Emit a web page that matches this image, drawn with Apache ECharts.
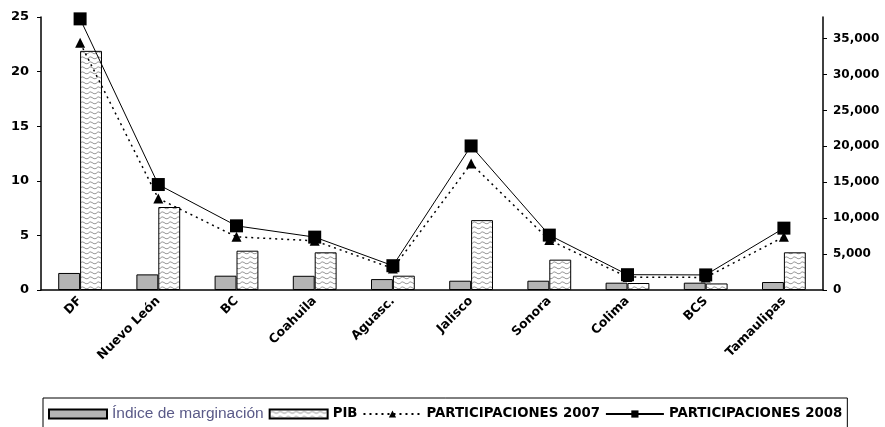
<!DOCTYPE html>
<html>
<head>
<meta charset="utf-8">
<script src="https://cdn.jsdelivr.net/npm/echarts@6/dist/echarts.min.js"></script>
<style>
html,body{margin:0;padding:0;background:#fff;}
#c{width:885px;height:427px;}
</style>
</head>
<body>
<div id="c"></div>
<script>
const categories = ['DF', 'Nuevo León', 'BC', 'Coahuila', 'Aguasc.', 'Jalisco', 'Sonora', 'Colima', 'BCS', 'Tamaulipas'];
const indiceMarginacion = [1.56, 1.43, 1.31, 1.3, 1.0, 0.85, 0.85, 0.67, 0.67, 0.73];
const pib = [21.9, 7.6, 3.6, 3.45, 1.31, 6.4, 2.78, 0.64, 0.6, 3.45];
const part2007 = [34400, 12740, 7400, 6850, 3000, 17600, 6950, 1800, 1750, 7400];
const part2008 = [37740, 14680, 8930, 7360, 3380, 20050, 7640, 2130, 2100, 8610];
const leftTicks = { min: 0, max: 25, interval: 5 };
const rightTicks = { min: 0, max: 38000, interval: 5000 };

// wave pattern for PIB bars
const pc = document.createElement('canvas');
pc.width = 8; pc.height = 5;
const g = pc.getContext('2d');
g.fillStyle = '#ffffff';
g.fillRect(0, 0, 8, 5);
g.strokeStyle = '#9a9a9a';
g.lineWidth = 1;
g.beginPath();
g.moveTo(0, 3.5);
g.quadraticCurveTo(2, 0.5, 4, 2.5);
g.quadraticCurveTo(6, 4.5, 8, 3.5);
g.stroke();

const FONT = 'DejaVu Sans';
const chart = echarts.init(document.getElementById('c'), null, { renderer: 'canvas' });
chart.setOption({
  animation: false,
  backgroundColor: '#ffffff',
  grid: { left: 41, right: 62, top: 17, bottom: 137, containLabel: false },
  legend: {
    left: 43, top: 398,
    padding: [8, 5, 8, 5],
    borderColor: '#000', borderWidth: 1,
    itemWidth: 58, itemHeight: 9, itemGap: 5,
    textStyle: { fontFamily: FONT, fontWeight: 'bold', fontSize: 13.3, color: '#000' },
    data: [
      { name: 'Índice de marginación', icon: 'rect', textStyle: { fontWeight: 'normal', fontFamily: 'Liberation Sans', fontSize: 15.5, color: '#5a5a88' } },
      { name: 'PIB', icon: 'rect' },
      { name: 'PARTICIPACIONES 2007' },
      { name: 'PARTICIPACIONES 2008' }
    ]
  },
  xAxis: {
    type: 'category',
    data: categories,
    axisLine: { lineStyle: { color: '#000', width: 1.5 } },
    axisTick: { length: 5, lineStyle: { color: '#000' } },
    axisLabel: { rotate: 45, margin: 9, fontFamily: FONT, fontWeight: 'bold', fontSize: 12.5, color: '#000' }
  },
  yAxis: [
    {
      type: 'value', min: leftTicks.min, max: leftTicks.max, interval: leftTicks.interval,
      splitLine: { show: false },
      axisLine: { show: true, lineStyle: { color: '#000', width: 1.5 } },
      axisTick: { show: true, length: 4, lineStyle: { color: '#000' } },
      axisLabel: { margin: 12, fontFamily: FONT, fontWeight: 'bold', fontSize: 13, color: '#000' }
    },
    {
      type: 'value', min: rightTicks.min, max: rightTicks.max, interval: rightTicks.interval,
      position: 'right',
      splitLine: { show: false },
      axisLine: { show: true, lineStyle: { color: '#000', width: 1.5 } },
      axisTick: { show: true, length: 4, lineStyle: { color: '#000' } },
      axisLabel: {
        margin: 10, showMaxLabel: false, fontFamily: FONT, fontWeight: 'bold', fontSize: 12, color: '#000',
        formatter: v => v % 5000 === 0 ? v.toLocaleString('en-US') : ''
      }
    }
  ],
  series: [
    {
      name: 'Índice de marginación', type: 'bar', yAxisIndex: 0, data: indiceMarginacion,
      barGap: '0%', barCategoryGap: '44%',
      itemStyle: { color: '#b4b4b4', borderColor: '#000', borderWidth: 1 }
    },
    {
      name: 'PIB', type: 'bar', yAxisIndex: 0, data: pib,
      barGap: '0%', barCategoryGap: '44%',
      itemStyle: { color: { image: pc, repeat: 'repeat' }, borderColor: '#000', borderWidth: 1 }
    },
    {
      name: 'PARTICIPACIONES 2007', type: 'line', yAxisIndex: 1, data: part2007,
      symbol: 'triangle', symbolSize: 10,
      lineStyle: { color: '#000', width: 1.5, type: [2, 4] },
      itemStyle: { color: '#000' }, z: 3
    },
    {
      name: 'PARTICIPACIONES 2008', type: 'line', yAxisIndex: 1, data: part2008,
      symbol: 'rect', symbolSize: 13,
      lineStyle: { color: '#000', width: 1 },
      itemStyle: { color: '#000' }, z: 4
    }
  ]
});
</script>
</body>
</html>
